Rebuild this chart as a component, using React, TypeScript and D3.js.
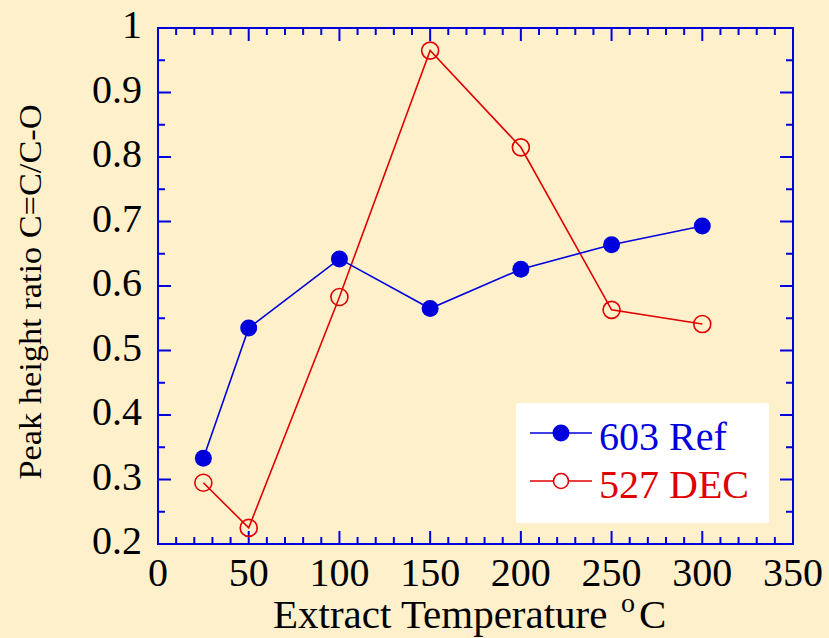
import * as d3 from "d3";

const temps = [25, 50, 100, 150, 200, 250, 300];
const ref603 = [0.333, 0.535, 0.642, 0.565, 0.626, 0.664, 0.693];
const dec527 = [0.295, 0.225, 0.583, 0.965, 0.815, 0.563, 0.541];
const xTicks = [0, 50, 100, 150, 200, 250, 300, 350];
const yTicks = [0.2, 0.3, 0.4, 0.5, 0.6, 0.7, 0.8, 0.9, 1];

const width = 829;
const height = 638;
const margin = { top: 28, right: 36, bottom: 94, left: 158 };
const bg = "#FFF0CC";
const blue = "#0000DD";
const red = "#E00000";
const font = "'Liberation Serif', 'Times New Roman', serif";

const App = () => {
  const x = d3.scaleLinear().domain([0, 350]).range([margin.left, width - margin.right]);
  const y = d3.scaleLinear().domain([0.2, 1]).range([height - margin.bottom, margin.top]);
  const [x0, x1] = x.range();
  const [y0, y1] = y.range();

  const line = d3
    .line<[number, number]>()
    .x((d) => x(d[0]))
    .y((d) => y(d[1]));

  const refPts = temps.map((t, i) => [t, ref603[i]] as [number, number]);
  const decPts = temps.map((t, i) => [t, dec527[i]] as [number, number]);

  const minorX = d3.range(0, 351, 10);
  const minorY = d3.range(0.2, 1.0001, 0.05);

  return (
    <svg
      width={width}
      height={height}
      style={{ position: "absolute", left: 0, top: 0, background: bg }}
    >
      <rect width={width} height={height} fill={bg} />

      {/* ticks on all four sides, pointing inward */}
      <g stroke={blue} strokeWidth={2}>
        {minorX.map((v) => {
          const major = Math.abs(v % 50) < 1e-6;
          const len = major ? 13 : 7;
          return (
            <g key={"x" + v}>
              <line x1={x(v)} x2={x(v)} y1={y0} y2={y0 - len} />
              <line x1={x(v)} x2={x(v)} y1={y1} y2={y1 + len} />
            </g>
          );
        })}
        {minorY.map((v, i) => {
          const len = i % 2 === 0 ? 13 : 7;
          return (
            <g key={"y" + i}>
              <line x1={x0} x2={x0 + len} y1={y(v)} y2={y(v)} />
              <line x1={x1} x2={x1 - len} y1={y(v)} y2={y(v)} />
            </g>
          );
        })}
        <rect x={x0} y={y1} width={x1 - x0} height={y0 - y1} fill="none" />
      </g>

      {/* tick labels */}
      <g fontFamily={font} fontSize={40} fill="#000">
        {xTicks.map((v) => (
          <text key={v} x={x(v)} y={586} textAnchor="middle">
            {v}
          </text>
        ))}
        {yTicks.map((v) => (
          <text key={v} x={142} y={y(v) + 10} textAnchor="end">
            {d3.format("~g")(v)}
          </text>
        ))}
      </g>

      {/* axis titles */}
      <g fontFamily={font} fill="#000">
        <text x={273} y={628} fontSize={41}>
          Extract Temperature
        </text>
        <text x={621} y={612} fontSize={28}>
          o
        </text>
        <text x={639} y={628} fontSize={41}>
          C
        </text>
      </g>
      <text
        transform={`translate(41,292) rotate(-90)`}
        textAnchor="middle"
        fontFamily={font}
        fontSize={32}
        textLength={375}
        lengthAdjust="spacingAndGlyphs"
        fill="#000"
      >
        Peak height ratio C=C/C-O
      </text>

      {/* series */}
      <path d={line(decPts)!} fill="none" stroke={red} strokeWidth={1.6} />
      {decPts.map((d, i) => (
        <circle key={i} cx={x(d[0])} cy={y(d[1])} r={8.5} fill="none" stroke={red} strokeWidth={1.6} />
      ))}
      <path d={line(refPts)!} fill="none" stroke={blue} strokeWidth={1.6} />
      {refPts.map((d, i) => (
        <circle key={i} cx={x(d[0])} cy={y(d[1])} r={8.5} fill={blue} />
      ))}

      {/* legend */}
      <g>
        <rect x={516} y={403} width={253} height={120} rx={3} fill="#fff" />
        <line x1={530} x2={592} y1={433} y2={433} stroke={blue} strokeWidth={1.6} />
        <circle cx={561} cy={433} r={8.5} fill={blue} />
        <text x={599} y={450} fontFamily={font} fontSize={40} fill={blue}>
          603 Ref
        </text>
        <line x1={530} x2={592} y1={481} y2={481} stroke={red} strokeWidth={1.6} />
        <circle cx={561} cy={481} r={7.5} fill="#fff" stroke={red} strokeWidth={1.6} />
        <text x={599} y={498} fontFamily={font} fontSize={40} fill={red}>
          527 DEC
        </text>
      </g>
    </svg>
  );
};

export default App;
